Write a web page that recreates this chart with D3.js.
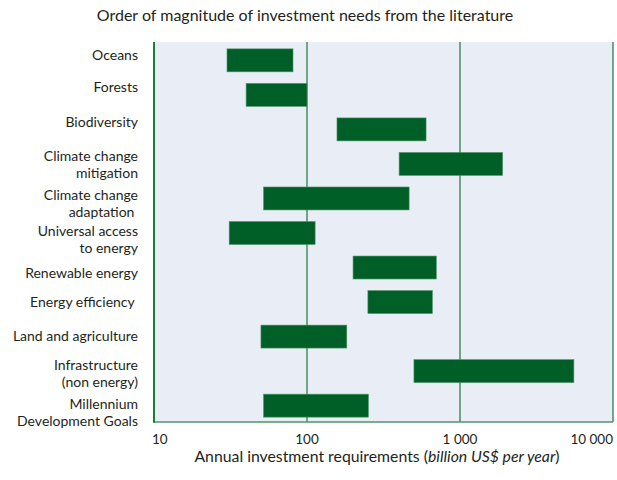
<!DOCTYPE html>
<html>
<head>
<meta charset="utf-8">
<script src="https://cdn.jsdelivr.net/npm/d3@7"></script>
<style>
  body { margin: 0; background: #fff; }
  text { font-family: Lato, "Open Sans", sans-serif; fill: #231f20; }
</style>
</head>
<body>
<svg id="chart" width="617" height="480"></svg>
<script>
// categories (label lines) and low/high investment estimates, billion US$ per year
const categories = [
  ["Oceans"],
  ["Forests"],
  ["Biodiversity"],
  ["Climate change", "mitigation"],
  ["Climate change", "adaptation "],
  ["Universal access", "to energy"],
  ["Renewable energy"],
  ["Energy efficiency "],
  ["Land and agriculture"],
  ["Infrastructure", "(non energy)"],
  ["Millennium", "Development Goals"]
];
const lowValues  = [30, 40, 157, 400, 52, 31, 200, 250, 50, 500, 52];
const highValues = [81, 100, 600, 1900, 465, 113, 700, 660, 182, 5550, 252];
const tickValues = [10, 100, 1000, 10000];
const tickLabels = ["10", "100", "1 000", "10 000"];

// small vertical nudges so labels sit like in the original layout
const labelNudge = [-5, -8, -7, 1, 5, 7, 6, 0, 0, 2.5, 7];

const svg = d3.select("#chart");

const x = d3.scaleLog()
    .domain([10, 10000])
    .range([154, 613]);

const y = d3.scaleBand()
    .domain(d3.range(categories.length))
    .range([43, 423])
    .paddingInner(0.335)
    .paddingOuter(0.17);

const plotL = x(10), plotR = x(10000), plotT = 42, plotB = 422;

// background
svg.append("rect")
    .attr("x", plotL)
    .attr("y", plotT)
    .attr("width", plotR - plotL)
    .attr("height", plotB - plotT)
    .attr("fill", "#e9edf6");

// gridlines
svg.append("g")
    .selectAll("line")
    .data([100, 1000, 10000])
    .enter().append("line")
    .attr("x1", d => x(d))
    .attr("x2", d => x(d))
    .attr("y1", plotT)
    .attr("y2", plotB)
    .attr("stroke", "#4f9467")
    .attr("stroke-width", 1.6);

// bottom and left border
svg.append("line")
    .attr("x1", plotL).attr("x2", plotR)
    .attr("y1", plotB).attr("y2", plotB)
    .attr("stroke", "#4f9467")
    .attr("stroke-width", 1.6);

svg.append("line")
    .attr("x1", plotL).attr("x2", plotL)
    .attr("y1", plotT).attr("y2", plotB + 0.8)
    .attr("stroke", "#1f7a3f")
    .attr("stroke-width", 2);

// bars
svg.append("g")
    .selectAll("rect")
    .data(categories.map((c, i) => ({ i: i, lo: lowValues[i], hi: highValues[i] })))
    .enter().append("rect")
    .attr("x", d => x(d.lo))
    .attr("y", d => y(d.i))
    .attr("width", d => x(d.hi) - x(d.lo))
    .attr("height", y.bandwidth())
    .attr("fill", "#005f27")
    .attr("stroke", "#4f9467")
    .attr("stroke-width", 0.6);

// category labels
const lineH = 17;
const labels = svg.append("g")
    .selectAll("text")
    .data(categories)
    .enter().append("text")
    .attr("text-anchor", "end")
    .attr("font-size", 14)
    .attr("transform", (d, i) => {
        const cy = y(i) + y.bandwidth() / 2 + labelNudge[i];
        return "translate(138," + (cy - (d.length - 1) * lineH / 2) + ")";
    });

labels.selectAll("tspan")
    .data(d => d)
    .enter().append("tspan")
    .attr("x", 0)
    .attr("y", (d, j) => j * lineH)
    .attr("dy", "0.35em")
    .style("white-space", "pre")
    .text(d => d);

// x tick labels
svg.append("g")
    .selectAll("text")
    .data(tickValues)
    .enter().append("text")
    .attr("x", (d, i) => i === 0 ? x(d) - 2 : x(d))
    .attr("y", 439)
    .attr("dy", "0.35em")
    .attr("font-size", 13.5)
    .attr("text-anchor", (d, i) => i === 0 ? "start" : (i === tickValues.length - 1 ? "end" : "middle"))
    .text((d, i) => tickLabels[i]);

// axis title
const xt = svg.append("text")
    .attr("x", 377)
    .attr("y", 456)
    .attr("dy", "0.35em")
    .attr("text-anchor", "middle")
    .attr("font-size", 15.8);
xt.append("tspan").text("Annual investment requirements (");
xt.append("tspan").attr("font-style", "italic").text("billion US$ per year");
xt.append("tspan").text(")");

// chart title
svg.append("text")
    .attr("x", 305)
    .attr("y", 15)
    .attr("dy", "0.35em")
    .attr("text-anchor", "middle")
    .attr("font-size", 16)
    .text("Order of magnitude of investment needs from the literature");
</script>
</body>
</html>
